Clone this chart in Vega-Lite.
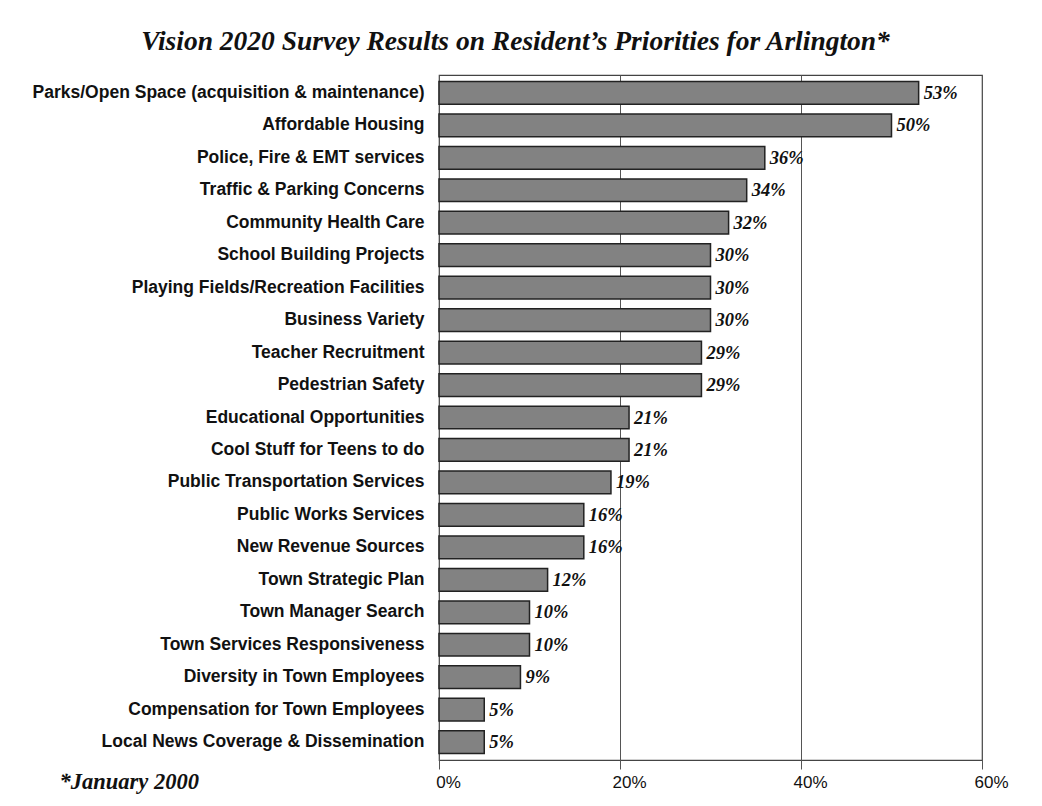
{
  "$schema": "https://vega.github.io/schema/vega-lite/v6.json",
  "width": 543,
  "height": 685,
  "autosize": {"type": "none"},
  "padding": {"left": 439, "top": 75, "right": 60, "bottom": 46},
  "background": "white",
  "title": {
    "text": "Vision 2020 Survey Results on Resident’s Priorities for Arlington*",
    "font": "Liberation Serif",
    "fontStyle": "italic",
    "fontWeight": "bold",
    "fontSize": 27.5,
    "color": "#111",
    "anchor": "middle",
    "dx": -195,
    "offset": 20
  },
  "data": {
    "values": [
      {"item": "Parks/Open Space (acquisition & maintenance)", "pct": 0.53},
      {"item": "Affordable Housing", "pct": 0.50},
      {"item": "Police, Fire & EMT services", "pct": 0.36},
      {"item": "Traffic & Parking Concerns", "pct": 0.34},
      {"item": "Community Health Care", "pct": 0.32},
      {"item": "School Building Projects", "pct": 0.30},
      {"item": "Playing Fields/Recreation Facilities", "pct": 0.30},
      {"item": "Business Variety", "pct": 0.30},
      {"item": "Teacher Recruitment", "pct": 0.29},
      {"item": "Pedestrian Safety", "pct": 0.29},
      {"item": "Educational Opportunities", "pct": 0.21},
      {"item": "Cool Stuff for Teens to do", "pct": 0.21},
      {"item": "Public Transportation Services", "pct": 0.19},
      {"item": "Public Works Services", "pct": 0.16},
      {"item": "New Revenue Sources", "pct": 0.16},
      {"item": "Town Strategic Plan", "pct": 0.12},
      {"item": "Town Manager Search", "pct": 0.10},
      {"item": "Town Services Responsiveness", "pct": 0.10},
      {"item": "Diversity in Town Employees", "pct": 0.09},
      {"item": "Compensation for Town Employees", "pct": 0.05},
      {"item": "Local News Coverage & Dissemination", "pct": 0.05}
    ]
  },
  "encoding": {
    "y": {
      "field": "item",
      "type": "nominal",
      "sort": null,
      "scale": {"paddingInner": 0.3, "paddingOuter": 0.2},
      "axis": {
        "title": null,
        "ticks": false,
        "domain": false,
        "labelFont": "Liberation Sans",
        "labelFontWeight": "bold",
        "labelFontSize": 17.5,
        "labelColor": "#111",
        "labelPadding": 15,
        "labelLimit": 440
      }
    },
    "x": {
      "field": "pct",
      "type": "quantitative",
      "scale": {"domain": [0, 0.6], "nice": false},
      "axis": {
        "values": [0, 0.2, 0.4, 0.6],
        "format": ".0%",
        "title": "*January 2000",
        "titleFont": "Liberation Serif",
        "titleFontStyle": "italic",
        "titleFontWeight": "bold",
        "titleFontSize": 22.5,
        "titleColor": "#111",
        "titleAnchor": "start",
        "titleAlign": "left",
        "titleBaseline": "alphabetic",
        "titleX": -380,
        "titleY": 28,
        "labelFont": "Liberation Sans",
        "labelFontSize": 17,
        "labelColor": "#111",
        "labelPadding": 5,
        "labelOffset": 9,
        "labelFlush": false,
        "labelOverlap": false,
        "domain": false,
        "ticks": true,
        "tickSize": 9,
        "tickColor": "#555",
        "grid": true,
        "gridColor": "#555",
        "gridWidth": 1
      }
    }
  },
  "layer": [
    {
      "mark": {"type": "bar", "color": "#828282", "stroke": "#222", "strokeWidth": 1.5}
    },
    {
      "mark": {
        "type": "text",
        "align": "left",
        "baseline": "middle",
        "dx": 5,
        "font": "Liberation Serif",
        "fontStyle": "italic",
        "fontWeight": "bold",
        "fontSize": 18.5,
        "color": "#111"
      },
      "encoding": {"text": {"field": "pct", "type": "quantitative", "format": ".0%"}}
    }
  ],
  "config": {
    "view": {"stroke": "#444", "strokeWidth": 1.2}
  }
}
